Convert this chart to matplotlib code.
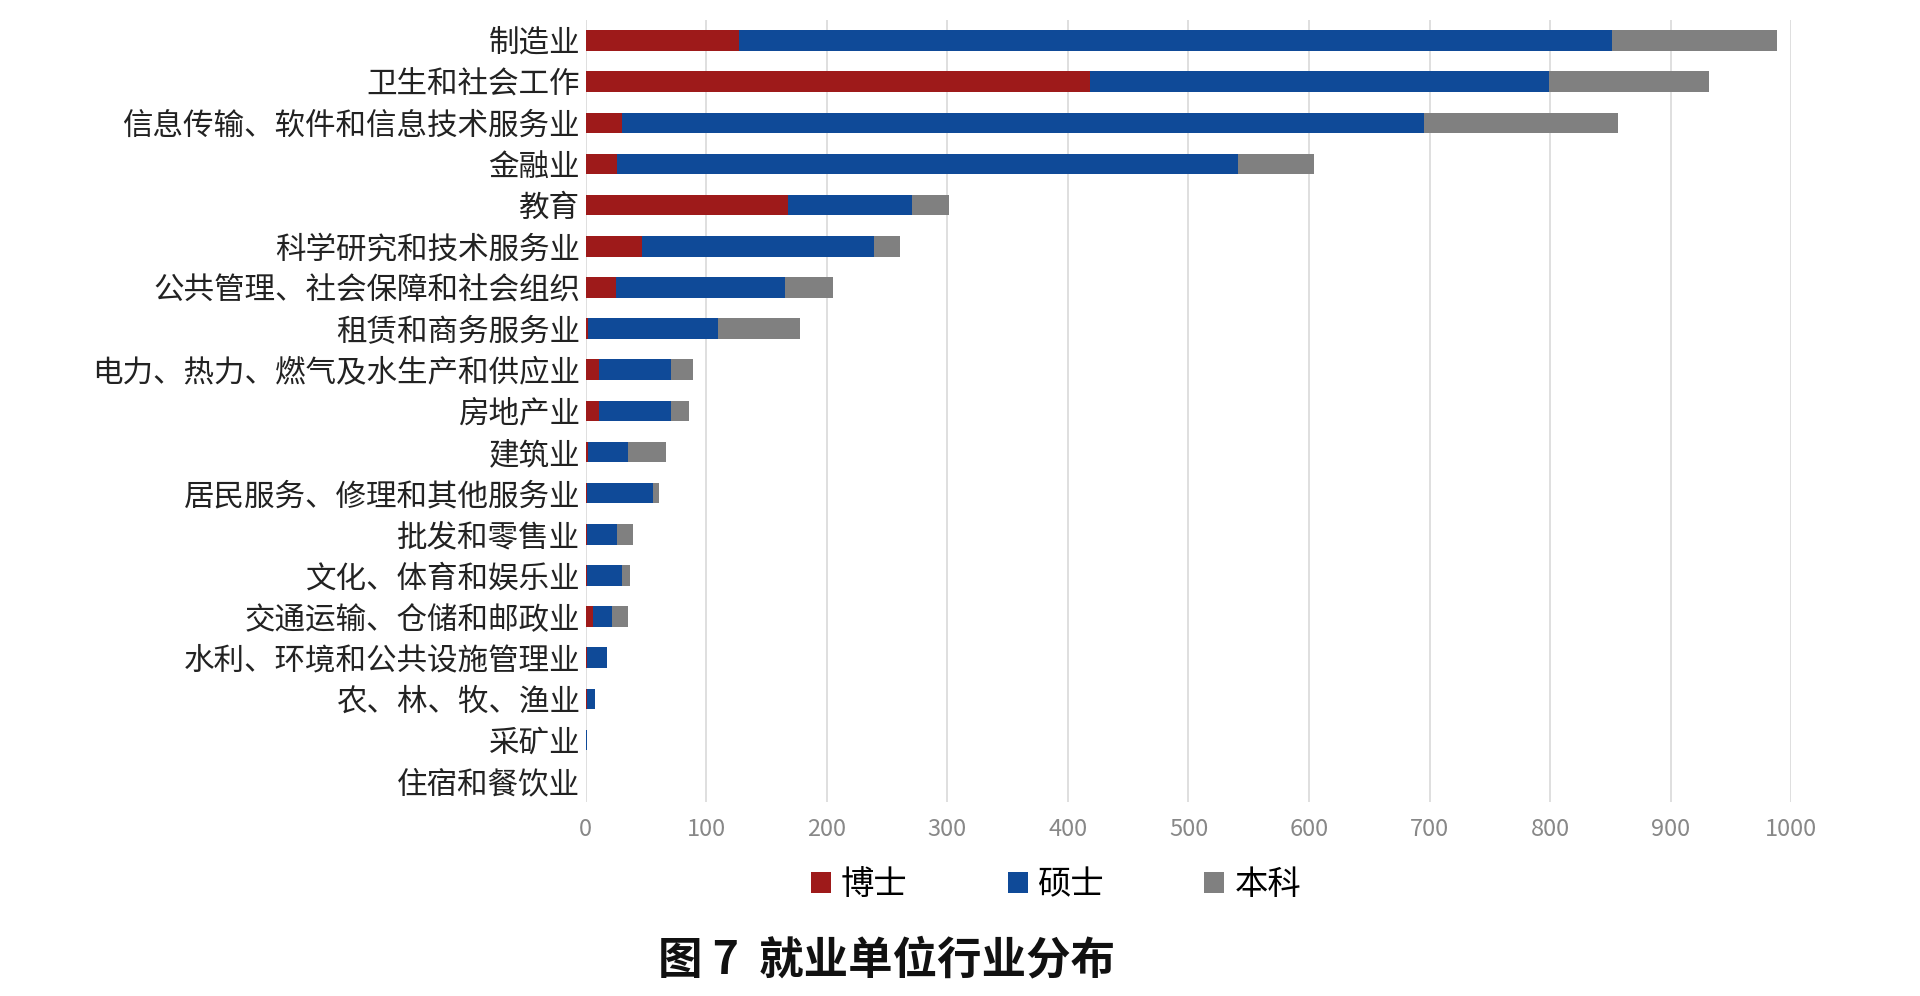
import matplotlib
matplotlib.use("Agg")
import matplotlib.pyplot as plt
import numpy as np

plt.rcParams['font.family'] = ['Noto Sans CJK SC', 'DejaVu Sans']

industries = ["制造业", "卫生和社会工作", "信息传输、软件和信息技术服务业", "金融业", "教育",
              "科学研究和技术服务业", "公共管理、社会保障和社会组织", "租赁和商务服务业",
              "电力、热力、燃气及水生产和供应业", "房地产业", "建筑业", "居民服务、修理和其他服务业",
              "批发和零售业", "文化、体育和娱乐业", "交通运输、仓储和邮政业",
              "水利、环境和公共设施管理业", "农、林、牧、渔业", "采矿业", "住宿和餐饮业"]
phd = [127, 418, 30, 26, 168, 47, 25, 2, 11, 11, 2, 1, 1, 1, 6, 1, 1, 0, 0]
master = [724, 381, 665, 515, 103, 192, 140, 108, 60, 60, 33, 55, 25, 29, 16, 17, 7, 1, 0]
bachelor = [137, 133, 161, 63, 30, 22, 40, 68, 18, 15, 32, 5, 13, 7, 13, 0, 0, 0, 0]

fig = plt.figure(figsize=(19.2, 9.96), dpi=100)
ax = fig.add_axes([0.305, 0.195, 0.628, 0.785])
y = np.arange(len(industries))
h = 0.5
left = np.zeros(len(industries))
for vals, color, name in [(phd, "#9E1A1A", "博士"), (master, "#0F4A98", "硕士"),
                          (bachelor, "#808080", "本科")]:
    ax.barh(y, vals, left=left, height=h, color=color, label=name, zorder=3)
    left += np.array(vals)

ax.set_ylim(len(industries) - 0.5, -0.5)
ax.set_xlim(0, 1000)
ax.set_xticks(range(0, 1001, 100))
ax.set_yticks(y)
ax.set_yticklabels(industries, fontsize=22, color="#222222")
ax.tick_params(axis="x", labelsize=17, colors="#888888", length=0, pad=12)
ax.tick_params(axis="y", length=0, pad=4)
ax.grid(axis="x", color="#D9D9D9", lw=1.2, zorder=0)
for s in ax.spines.values():
    s.set_visible(False)

fig.legend(loc="center", bbox_to_anchor=(0.55, 0.112), ncol=3, frameon=False,
           fontsize=24, handlelength=0.6, handleheight=0.6, columnspacing=3,
           handletextpad=0.3)
fig.text(0.462, 0.036, "图 7  就业单位行业分布", ha="center", va="center",
         fontsize=32, fontweight="bold", color="#111111")
fig.savefig("out.png", dpi=100)
